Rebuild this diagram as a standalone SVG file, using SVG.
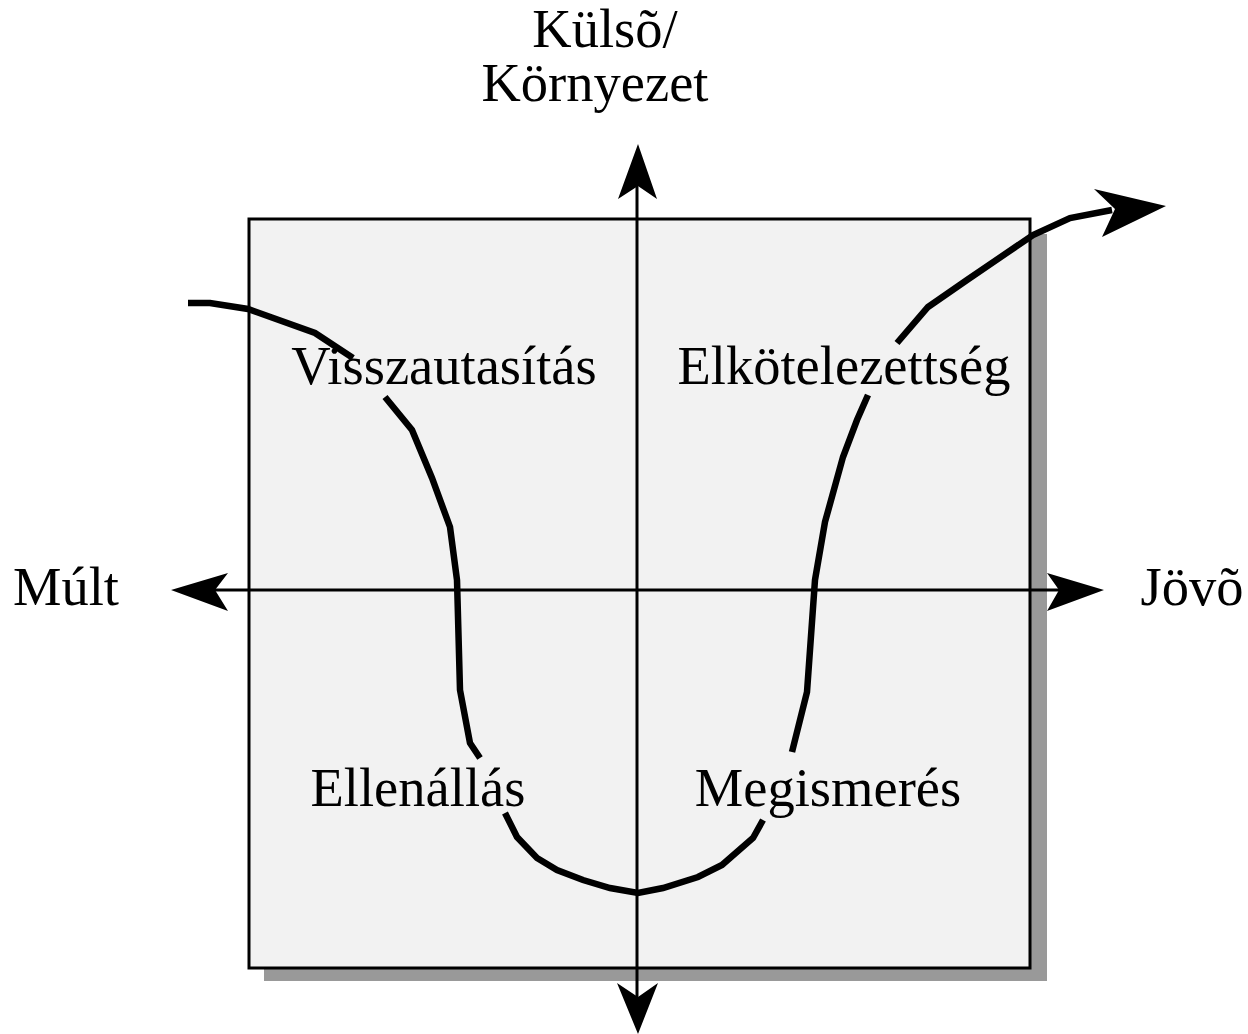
<svg xmlns="http://www.w3.org/2000/svg" width="1248" height="1034" viewBox="0 0 1248 1034">
<style>
.lbl{font-family:"Liberation Serif","Times New Roman",serif;font-size:54.5px;fill:#000;text-anchor:middle}
.axis{stroke:#000;stroke-width:3;fill:none}
.curve{stroke:#000;stroke-width:6.5;fill:none;stroke-linejoin:miter}
.head{fill:#000}
</style>
<rect width="1248" height="1034" fill="#fff"/>
<g id="frame">
<rect x="264" y="234" width="783" height="747" fill="#999"/>
<rect x="249" y="219" width="781" height="749" fill="#f2f2f2" stroke="#000" stroke-width="3"/>
</g>
<g id="connectors">
<line class="axis" x1="637" y1="185" x2="637" y2="998"/>
<line class="axis" x1="214" y1="590" x2="1060" y2="590"/>
<polygon class="head" points="638,144 657,199 638,186 618,199"/>
<polygon class="head" points="638,1034 658,983 638,997 617,983"/>
<polygon class="head" points="171,590 228,573 215,590 228,611"/>
<polygon class="head" points="1104,590 1047,573 1059,590 1047,611"/>
<polyline class="curve" points="188,303 210,303 248,309 315,333 353,358"/>
<polyline class="curve" points="385,397 412,430 432,478 450,527 457,580 460,690 470,743 480,758"/>
<polyline class="curve" points="505,813 517,837 537,858 557,870 583,880 610,888 638,893 663,888 698,877 722,865 753,838 763,820"/>
<polyline class="curve" points="792,752 807,692 815,580 825,522 843,457 857,420 868,395"/>
<polyline class="curve" points="897,343 928,307 967,280 1033,235 1070,218 1112,210"/>
<polygon class="head" points="1166,206 1094,189 1115,209 1102,237"/>
</g>
<g id="axis-top">
<text class="lbl" x="605" y="47">Külsõ/</text>
<text class="lbl" x="595" y="101">Környezet</text>
</g>
<g id="axis-left"><text class="lbl" x="66" y="605">Múlt</text></g>
<g id="axis-right"><text class="lbl" x="1192" y="605">Jövõ</text></g>
<g id="q-visszautasitas"><text class="lbl" x="444" y="384">Visszautasítás</text></g>
<g id="q-elkotelezettseg"><text class="lbl" x="844" y="384">Elkötelezettség</text></g>
<g id="q-ellenallas"><text class="lbl" x="418" y="806">Ellenállás</text></g>
<g id="q-megismeres"><text class="lbl" x="828" y="806">Megismerés</text></g>
</svg>
